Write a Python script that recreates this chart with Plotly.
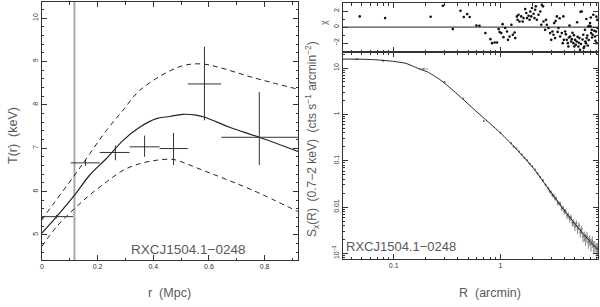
import plotly.graph_objects as go

# ---------------- Left panel: temperature profile ----------------
r_pts = [0.053, 0.157, 0.264, 0.369, 0.473, 0.584, 0.781]
r_lo = [0.053, 0.053, 0.056, 0.054, 0.050, 0.060, 0.137]
r_hi = [0.059, 0.051, 0.051, 0.054, 0.051, 0.060, 0.150]
T_pts = [5.42, 6.66, 6.90, 7.03, 6.99, 8.48, 7.25]
T_up = [0.04, 0.07, 0.16, 0.26, 0.36, 0.86, 1.04]
T_dn = [0.04, 0.07, 0.18, 0.23, 0.38, 0.84, 0.64]

r_model = [0.0, 0.053, 0.118, 0.172, 0.232, 0.292, 0.351, 0.411, 0.459, 0.506, 0.554, 0.59, 0.674, 0.781, 0.925]
T_model = [5.04, 5.42, 5.92, 6.38, 6.76, 7.18, 7.48, 7.68, 7.73, 7.78, 7.76, 7.70, 7.48, 7.25, 6.91]

r_upper = [0.0, 0.017, 0.118, 0.172, 0.232, 0.291, 0.351, 0.459, 0.519, 0.578, 0.638, 0.757, 0.925]
T_upper = [5.34, 5.50, 6.38, 6.87, 7.41, 7.87, 8.33, 8.78, 8.92, 8.94, 8.86, 8.63, 8.35]

r_lower = [0.0, 0.053, 0.118, 0.172, 0.232, 0.292, 0.351, 0.411, 0.471, 0.519, 0.578, 0.638, 0.757, 0.925]
T_lower = [4.73, 5.19, 5.61, 5.92, 6.22, 6.49, 6.64, 6.72, 6.74, 6.64, 6.49, 6.34, 6.03, 5.52]

r_cool = 0.117

# ---------------- Right panel: surface brightness ----------------
R_model = [0.0333, 0.05, 0.07, 0.1, 0.13, 0.179, 0.206, 0.275, 0.394, 0.605, 1.0,
           1.43, 2.05, 2.93, 4.2, 6.0, 8.24]
S_model = [15.6, 15.5, 15.0, 13.9, 12.6, 9.3, 8.3, 5.5, 2.75, 1.12, 0.40,
           0.174, 0.068, 0.0219, 0.00724, 0.00263, 0.0012]

R_data = [0.045, 0.08, 0.19, 0.3, 0.45, 0.7, 1.0,
          1.259, 1.334, 1.413, 1.496, 1.585, 1.679, 1.778, 1.884, 1.995, 2.113,
          2.239, 2.371, 2.512, 2.661,
          2.818, 2.901, 2.985, 3.073, 3.162, 3.255, 3.35, 3.447, 3.548, 3.652,
          3.758, 3.868, 3.981, 4.097, 4.217, 4.34, 4.467, 4.597, 4.732, 4.87,
          5.012, 5.158, 5.309, 5.464, 5.623, 5.788, 5.957, 6.131, 6.31, 6.494,
          6.683, 6.879, 7.079, 7.286, 7.499, 7.718, 7.943, 8.175]
S_data = [15.4, 14.3, 9.6, 5.0, 2.2, 0.72, 0.40,
          0.239, 0.200, 0.184, 0.158, 0.137, 0.1164, 0.1028, 0.0865, 0.0759, 0.0644,
          0.0531, 0.0448, 0.0378, 0.0301,
          0.02535, 0.02213, 0.02089, 0.01803, 0.01791, 0.01545, 0.01517, 0.0125, 0.01213, 0.01161,
          0.00948, 0.00951, 0.00794, 0.00817, 0.00652, 0.00673, 0.00553, 0.0060, 0.00459, 0.00465,
          0.00381, 0.00443, 0.00331, 0.00403, 0.00288, 0.00327, 0.00233, 0.00238, 0.00207, 0.00232,
          0.00175, 0.00197, 0.0016, 0.00183, 0.00142, 0.00145, 0.00126, 0.00129]
S_err = [0.05, 0.05, 0.05, 0.02, 0.01, 0.004, 0.003,
         0.004, 0.004, 0.004, 0.004, 0.004, 0.004, 0.004, 0.0035, 0.003, 0.003,
         0.0025, 0.0025, 0.0024, 0.0022,
         0.0022, 0.002, 0.0019, 0.0018, 0.0018, 0.0016, 0.0016, 0.0015, 0.0014, 0.0014,
         0.0013, 0.0012, 0.0011, 0.0011, 0.0010, 0.0010, 0.0009, 0.0009, 0.0008, 0.0008,
         0.0008, 0.0008, 0.0007, 0.0007, 0.0007, 0.0007, 0.0006, 0.0006, 0.0006, 0.0006,
         0.0005, 0.0005, 0.0005, 0.0005, 0.0004, 0.0004, 0.0004, 0.0004]
R_data_hw = [0.002, 0.003, 0.02, 0.005, 0.005, 0.006, 0.008] + [0.02] * 51

# residuals (chi)
R_res = [0.048, 0.083, 0.222, 0.289, 0.358, 0.423, 0.454, 0.489, 0.516,
         0.597, 0.637, 0.724, 0.807, 0.836, 0.885, 0.931, 0.964, 0.985, 1.02,
         1.05, 1.07, 1.11, 1.155, 1.18, 1.22, 1.27, 1.31, 1.36, 1.38,
         1.43, 1.45, 1.48, 1.51, 1.57, 1.62, 1.65, 1.71, 1.75, 1.78,
         1.84, 1.88, 1.91, 1.95, 1.98, 2.05, 2.09, 2.12, 2.15, 2.20,
         2.28, 2.37, 2.45, 2.51, 2.42, 2.54, 2.63, 2.73, 2.83, 2.93,
         3.0, 3.08, 3.15, 3.26, 3.39, 3.51, 3.64, 3.77, 3.85, 3.94,
         4.05, 4.2, 4.29, 4.35, 4.51, 4.61, 4.68, 4.84, 4.94, 5.02,
         5.2, 5.39, 5.51, 5.59, 5.8, 6.0, 6.13, 6.22, 6.35, 6.45,
         6.68, 6.83, 6.94, 7.1, 7.2, 7.34, 7.45, 7.73, 7.9, 8.0, 8.17,
         2.68, 3.2, 3.9, 4.12, 4.4, 4.75, 5.1, 5.3, 5.45, 5.7,
         5.9, 6.05, 6.28, 6.55, 6.6, 6.75, 7.0, 7.25, 7.6, 7.8,
         3.3, 3.45, 3.6, 4.45, 4.9, 5.25, 5.65, 6.4, 7.05, 7.95, 8.1]
chi_res = [1.33, 1.12, 1.29, 2.66, -0.25, 2.04, 1.25, 1.62, 1.25,
           0.2, 0.16, -0.75, -1.5, -2.0, -1.92, -1.92, -0.25, -0.62, -0.75,
           0.37, -1.25, -0.12, -0.55, -1.59, -1.17, 0.29, -0.96, -0.67, -1.37,
           1.33, 0.91, 1.54, 0.7, 1.33, 0.7, 1.12, 2.25, 1.75, 1.12,
           1.41, 0.91, 1.95, 1.33, 2.37, 1.66, 1.12, 2.16, 2.58, 0.91,
           1.54, 1.95, 2.79, 2.58, 0.29, 0.7, -0.34, 0.29, -0.12, -0.75,
           -1.59, -0.55, -0.96, -1.37, 1.33, -0.12, -1.17, -0.75, -2.0, -1.59,
           -0.55, -1.59, -2.0, -2.42, -1.17, -1.79, -1.5, -2.0, -2.42, -1.59,
           -1.79, -2.42, -1.37, -2.83, 1.95, -0.96, -2.42, -0.34, -2.0, -1.37,
           0.08, 0.16, 0.5, -0.75, -0.34, -0.96, 1.54, -1.17, -0.55, -2.0, -0.12,
           0.9, 0.5, 1.33, -0.9, -1.3, -0.7, -2.2, -1.2, -1.95, -2.1,
           -1.55, -2.6, -1.8, -1.05, -2.3, -1.6, 0.1, -1.3, -0.45, -1.7,
           0.75, -0.6, 1.1, 0.2, -1.0, 0.6, 1.9, 1.0, 1.2, 1.3, 0.9]

label_text = "RXCJ1504.1\u22120248"

W, H = 600, 307
def px(x):
    return x / W
def py(y):
    return 1 - y / H

FONT = "Liberation Sans, Arial, Helvetica, sans-serif"
DARK = "#222222"
GREY_TXT = "#5a5a5a"

fig = go.Figure()

# left panel
fig.add_trace(go.Scatter(x=[r_cool, r_cool], y=[4.42, 10.37], mode="lines",
                         line=dict(color="#a8a8a8", width=2), xaxis="x", yaxis="y",
                         showlegend=False, hoverinfo="skip"))
fig.add_trace(go.Scatter(x=r_upper, y=T_upper, mode="lines", line=dict(color=DARK, width=1, dash="5px,4px", shape="spline"),
                         xaxis="x", yaxis="y", showlegend=False))
fig.add_trace(go.Scatter(x=r_lower, y=T_lower, mode="lines", line=dict(color=DARK, width=1, dash="5px,4px", shape="spline"),
                         xaxis="x", yaxis="y", showlegend=False))
fig.add_trace(go.Scatter(x=r_model, y=T_model, mode="lines", line=dict(color=DARK, width=1.2, shape="spline"),
                         xaxis="x", yaxis="y", showlegend=False))
fig.add_trace(go.Scatter(x=r_pts, y=T_pts, mode="markers", marker=dict(size=1, color=DARK),
                         error_x=dict(type="data", symmetric=False, array=r_hi, arrayminus=r_lo,
                                      color="#333333", thickness=1, width=0),
                         error_y=dict(type="data", symmetric=False, array=T_up, arrayminus=T_dn,
                                      color="#333333", thickness=1, width=0),
                         xaxis="x", yaxis="y", showlegend=False))

# right main panel
fig.add_trace(go.Scatter(x=R_data, y=S_data, mode="markers", marker=dict(size=2, color="#777777"),
                         error_y=dict(type="data", array=S_err, color="#8a8a8a", thickness=1, width=0),
                         error_x=dict(type="data", array=R_data_hw, color="#9a9a9a", thickness=1, width=0),
                         xaxis="x3", yaxis="y3", showlegend=False))
fig.add_trace(go.Scatter(x=R_model, y=S_model, mode="lines", line=dict(color=DARK, width=1, shape="spline", smoothing=0.6),
                         xaxis="x3", yaxis="y3", showlegend=False))

# residual panel
fig.add_trace(go.Scatter(x=[0.0333, 8.24], y=[0, 0], mode="lines", line=dict(color=DARK, width=1),
                         xaxis="x2", yaxis="y2", showlegend=False))
fig.add_trace(go.Scatter(x=R_res, y=chi_res, mode="markers", marker=dict(size=2.6, color="#111111"),
                         xaxis="x2", yaxis="y2", showlegend=False))

axis_common = dict(showline=True, linecolor="#333333", linewidth=1, mirror="allticks",
                   ticks="inside", ticklen=5, tickcolor="#333333", showgrid=False, zeroline=False,
                   tickfont=dict(family=FONT, size=7, color="#333333"))

minor_log = []
for e in range(-4, 2):
    for k in range(2, 10):
        minor_log.append(k * 10.0 ** e)

fig.update_layout(
    width=W, height=H, margin=dict(l=0, r=0, t=0, b=0),
    paper_bgcolor="white", plot_bgcolor="white", hovermode=False,
    xaxis=dict(domain=[px(40), px(297)], range=[0, 0.92], anchor="y",
               tickvals=[0, 0.2, 0.4, 0.6, 0.8], ticktext=["0", "0.2", "0.4", "0.6", "0.8"],
               minor=dict(ticks="inside", ticklen=2.5, dtick=0.1, tick0=0, tickcolor="#333333"),
               **axis_common),
    yaxis=dict(domain=[py(260), py(2)], range=[4.42, 10.37], anchor="x",
               tickvals=[5, 6, 7, 8, 9, 10], tickangle=-90,
               minor=dict(ticks="inside", ticklen=2.5, dtick=0.2, tick0=0, tickcolor="#333333"),
               **axis_common),
    xaxis2=dict(domain=[px(342), px(598)], type="log", range=[-1.477, 0.916], anchor="y2",
                dtick=1, showticklabels=False,
                minor=dict(ticks="inside", ticklen=2.5, tickmode="array", tickvals=minor_log, tickcolor="#333333"),
                **axis_common),
    yaxis2=dict(domain=[py(52), py(3)], range=[-3.1, 3.0], anchor="x2",
                tickvals=[-2, 0, 2], tickangle=-90,
                minor=dict(ticks="inside", ticklen=2.5, dtick=1, tick0=0, tickcolor="#333333"),
                **axis_common),
    xaxis3=dict(domain=[px(342), px(598)], type="log", range=[-1.477, 0.916], anchor="y3",
                tickvals=[0.1, 1], ticktext=["0.1", "1"],
                minor=dict(ticks="inside", ticklen=2.5, tickmode="array", tickvals=minor_log, tickcolor="#333333"),
                **axis_common),
    yaxis3=dict(domain=[py(259), py(52)], type="log", range=[-3.12, 1.346], anchor="x3",
                tickvals=[0.001, 0.01, 0.1, 1, 10],
                ticktext=["10<sup>\u22123</sup>", "0.01", "0.1", "1", "10"], tickangle=-90,
                minor=dict(ticks="inside", ticklen=2.5, tickmode="array", tickvals=minor_log, tickcolor="#333333"),
                **axis_common),
)

ann = [
    dict(text="T(r)  (keV)", x=px(11), y=py(135), textangle=-90, font=dict(size=12.5)),
    dict(text="r  (Mpc)", x=px(168), y=py(293), font=dict(size=12.5)),
    dict(text="R  (arcmin)", x=px(490), y=py(293), font=dict(size=12.5)),
    dict(text="S<sub>x</sub>(R)  (0.7\u22122 keV)  (cts s<sup>\u22121</sup> arcmin<sup>\u22122</sup>)",
         x=px(311), y=py(139), textangle=-90, font=dict(size=12)),
    dict(text="\u03c7", x=px(323), y=py(22), textangle=-90, font=dict(size=9)),
    dict(text=label_text, x=px(186.5), y=py(249), font=dict(size=13.5)),
    dict(text=label_text, x=px(400), y=py(246), font=dict(size=13)),
]
for a in ann:
    a.update(xref="paper", yref="paper", showarrow=False, xanchor="center", yanchor="middle")
    a["font"].update(family=FONT, color=GREY_TXT)
fig.update_layout(annotations=ann)

fig.write_html("out.html", config={"displayModeBar": False},
               post_script="document.body.style.margin='0';document.body.style.overflow='hidden';")
